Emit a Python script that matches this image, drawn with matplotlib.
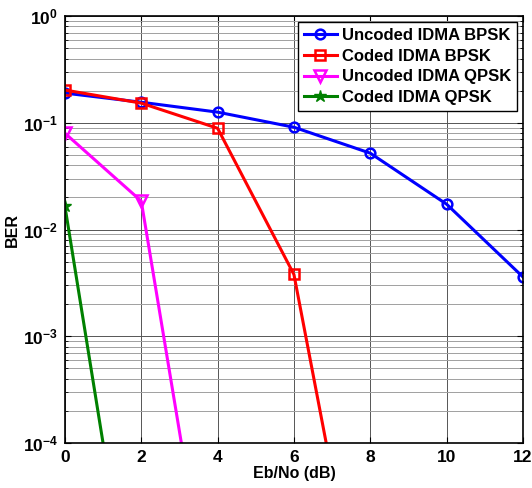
import numpy as np
import matplotlib
matplotlib.use('Agg')
import matplotlib.pyplot as plt

plt.rcParams['font.family'] = ['Liberation Sans', 'DejaVu Sans']
plt.rcParams['font.weight'] = 'bold'
plt.rcParams['mathtext.default'] = 'bf'

# Eb/No values (dB) and BER for each scheme
snr_bpsk = [0, 2, 4, 6, 8, 10, 12]
ber_uncoded_bpsk = [0.19, 0.156, 0.126, 0.091, 0.052, 0.0173, 0.0036]

snr_coded_bpsk = [0, 2, 4, 6, 8]
ber_coded_bpsk = [0.203, 0.153, 0.089, 0.0038, 7e-7]

snr_uncoded_qpsk = [0, 2, 4]
ber_uncoded_qpsk = [0.080, 0.0185, 9e-7]

snr_coded_qpsk = [0, 2]
ber_coded_qpsk = [0.0166, 6e-7]

xticks = [0, 2, 4, 6, 8, 10, 12]

fig = plt.figure(figsize=(5.32, 4.88), dpi=100)
ax = fig.add_axes([0.122, 0.092, 0.861, 0.875])

ax.semilogy(snr_bpsk, ber_uncoded_bpsk, '-o', color='#0000ff', lw=2.2,
            ms=7, mfc='none', mew=1.8, label='Uncoded IDMA BPSK')
ax.semilogy(snr_coded_bpsk, ber_coded_bpsk, '-s', color='#ff0000', lw=2.2,
            ms=7, mfc='none', mew=1.8, label='Coded IDMA BPSK')
ax.semilogy(snr_uncoded_qpsk, ber_uncoded_qpsk, '-v', color='#ff00ff', lw=2.2,
            ms=8, mfc='none', mew=1.8, label='Uncoded IDMA QPSK')
ax.semilogy(snr_coded_qpsk, ber_coded_qpsk, '-*', color='#008000', lw=2.2,
            ms=9, label='Coded IDMA QPSK')

ax.set_xlim(0, 12)
ax.set_ylim(1e-4, 1)
ax.set_xticks(xticks)
ax.set_xticklabels([str(t) for t in xticks])

ax.grid(True, which='major', color='#555555', lw=0.7)
ax.grid(True, which='minor', axis='y', color='#a0a0a0', lw=0.7)
ax.set_axisbelow(True)

ax.tick_params(which='both', direction='in', top=True, right=True,
               labelsize=12.5)
ax.tick_params(which='major', length=4, pad=5)
ax.tick_params(which='minor', length=2)
for sp in ax.spines.values():
    sp.set_linewidth(1.2)

ax.set_xlabel('Eb/No (dB)', fontsize=11.5, fontweight='bold', labelpad=1)
ax.set_ylabel('BER', fontsize=11.5, fontweight='bold', labelpad=2)

leg = ax.legend(loc='upper right', prop={'weight': 'bold', 'size': 12},
                fancybox=False, edgecolor='black', framealpha=1,
                handlelength=2.0, borderaxespad=0.35, labelspacing=0.35,
                borderpad=0.35, handletextpad=0.3)
leg.get_frame().set_linewidth(1.0)

fig.savefig('out.png', dpi=100)
